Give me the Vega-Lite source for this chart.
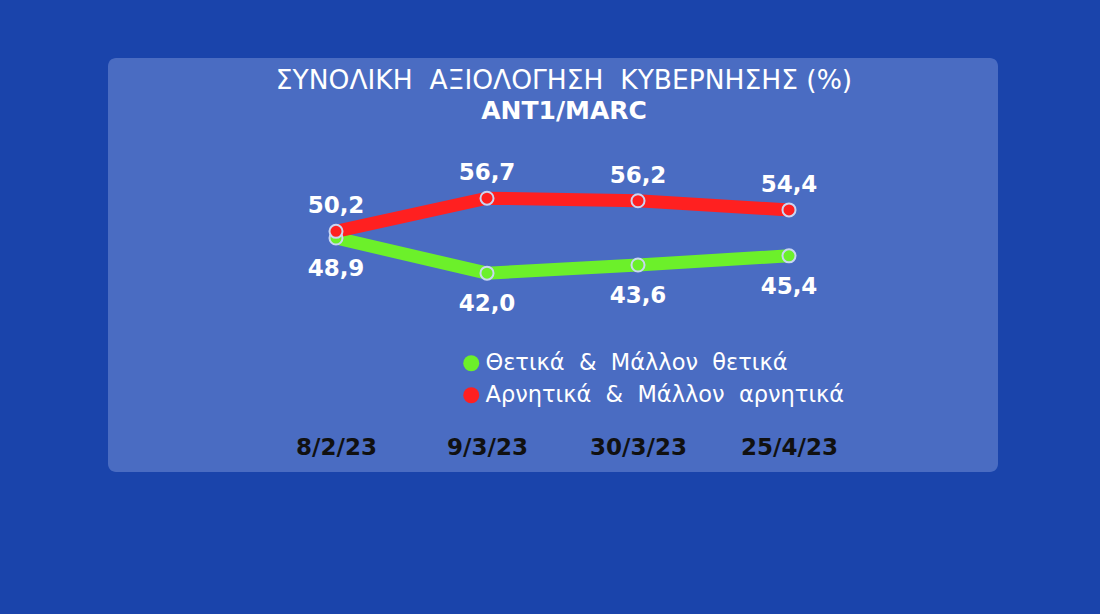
{
  "$schema": "https://vega.github.io/schema/vega-lite/v6.json",
  "autosize": "none",
  "width": 890,
  "height": 414,
  "padding": {"left": 108, "top": 58, "right": 102, "bottom": 142},
  "background": "#1a44ab",
  "config": {
    "locale": {"number": {"decimal": ",", "thousands": ".", "grouping": [3], "currency": ["", "€"]}},
    "view": {"fill": "#4a6cc2", "stroke": null, "cornerRadius": 8},
    "font": "DejaVu Sans",
    "legend": {
      "title": null, "orient": "none", "legendX": 352, "legendY": 294,
      "symbolType": "circle", "symbolSize": 256, "symbolStrokeWidth": 0, "symbolOpacity": 1,
      "labelFont": "DejaVu Sans", "labelFontSize": 22.5, "labelColor": "#ffffff",
      "labelLimit": 600, "rowPadding": 9, "labelOffset": 3
    }
  },
  "title": {
    "text": "ΣΥΝΟΛΙΚΗ\u00a0\u00a0ΑΞΙΟΛΟΓΗΣΗ\u00a0\u00a0ΚΥΒΕΡΝΗΣΗΣ\u00a0(%)",
    "subtitle": "ANT1/MARC",
    "anchor": "middle",
    "dx": 11,
    "offset": -66,
    "font": "DejaVu Sans",
    "fontSize": 26.5,
    "fontWeight": "normal",
    "color": "#ffffff",
    "subtitleFont": "DejaVu Sans",
    "subtitleFontSize": 25,
    "subtitleFontWeight": "bold",
    "subtitleColor": "#ffffff",
    "subtitlePadding": 5
  },
  "data": {
    "values": [
      {"date": "8/2/23", "series": "Θετικά & Μάλλον θετικά", "value": 48.9},
      {"date": "9/3/23", "series": "Θετικά & Μάλλον θετικά", "value": 42.0},
      {"date": "30/3/23", "series": "Θετικά & Μάλλον θετικά", "value": 43.6},
      {"date": "25/4/23", "series": "Θετικά & Μάλλον θετικά", "value": 45.4},
      {"date": "8/2/23", "series": "Αρνητικά & Μάλλον αρνητικά", "value": 50.2},
      {"date": "9/3/23", "series": "Αρνητικά & Μάλλον αρνητικά", "value": 56.7},
      {"date": "30/3/23", "series": "Αρνητικά & Μάλλον αρνητικά", "value": 56.2},
      {"date": "25/4/23", "series": "Αρνητικά & Μάλλον αρνητικά", "value": 54.4}
    ]
  },
  "encoding": {
    "x": {
      "field": "date", "type": "ordinal", "sort": null,
      "scale": {"type": "point", "range": [228, 681], "padding": 0},
      "axis": {
        "title": null, "domain": false, "ticks": false, "grid": false,
        "labelAngle": 0, "labelFont": "DejaVu Sans", "labelFontSize": 23, "labelFontWeight": "bold",
        "labelColor": "#111111", "offset": -36, "labelPadding": 0, "labelBaseline": "top"
      }
    },
    "y": {
      "field": "value", "type": "quantitative",
      "scale": {"domain": [3, 84.2], "zero": false, "nice": false},
      "axis": null
    }
  },
  "layer": [
    {
      "mark": {"type": "line", "strokeWidth": 13, "strokeCap": "butt"},
      "encoding": {
        "color": {
          "field": "series", "type": "nominal",
          "scale": {"domain": ["Θετικά & Μάλλον θετικά", "Αρνητικά & Μάλλον αρνητικά"], "range": ["#6cf02a", "#ff2020"]},
          "legend": {
            "labelExpr": "replace(replace(replace(datum.label, ' ', '\u00a0\u00a0'), ' ', '\u00a0\u00a0'), ' ', '\u00a0\u00a0')"
          }
        }
      }
    },
    {
      "mark": {"type": "point", "shape": "circle", "filled": true, "size": 170, "stroke": "#c9d6f2", "strokeWidth": 2, "opacity": 1},
      "encoding": {
        "color": {
          "field": "series", "type": "nominal",
          "legend": {
            "labelExpr": "replace(replace(replace(datum.label, ' ', '\u00a0\u00a0'), ' ', '\u00a0\u00a0'), ' ', '\u00a0\u00a0')"
          }
        }
      }
    },
    {
      "transform": [{"filter": "datum.series == 'Αρνητικά & Μάλλον αρνητικά'"}],
      "mark": {"type": "text", "dy": -25, "baseline": "middle", "font": "DejaVu Sans", "fontSize": 23, "fontWeight": "bold", "color": "#ffffff"},
      "encoding": {"text": {"field": "value", "type": "quantitative", "format": ".1f"}}
    },
    {
      "transform": [{"filter": "datum.series == 'Θετικά & Μάλλον θετικά'"}],
      "mark": {"type": "text", "dy": 31, "baseline": "middle", "font": "DejaVu Sans", "fontSize": 23, "fontWeight": "bold", "color": "#ffffff"},
      "encoding": {"text": {"field": "value", "type": "quantitative", "format": ".1f"}}
    }
  ]
}
